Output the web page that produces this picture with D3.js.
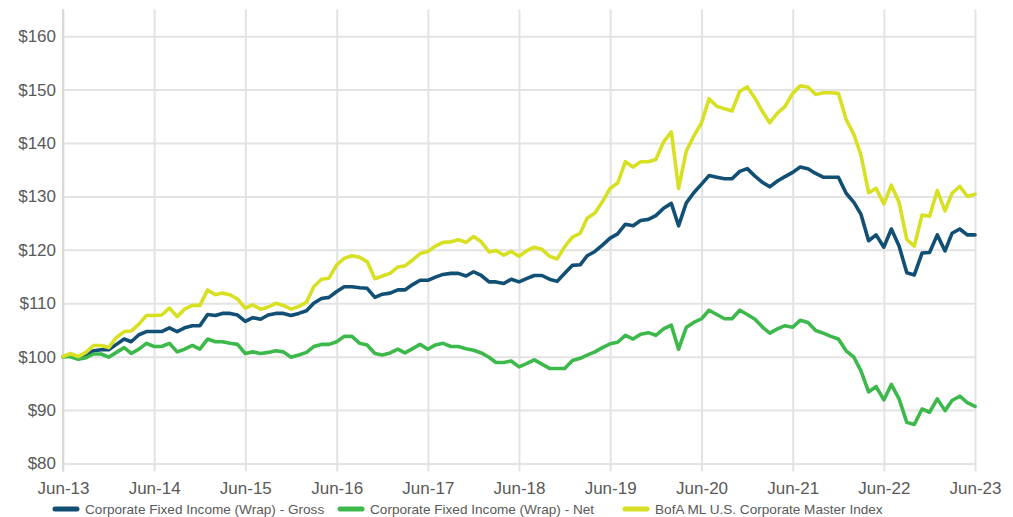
<!DOCTYPE html>
<html>
<head>
<meta charset="utf-8">
<script src="https://cdn.jsdelivr.net/npm/d3@7"></script>
<style>
  html, body { margin: 0; padding: 0; background: #ffffff; }
  svg { display: block; }
  text { font-family: "Liberation Sans", Arial, sans-serif; }
</style>
</head>
<body>
<svg id="chart" width="1013" height="517"></svg>
<script>
// ---- Data (monthly, Jun-13 .. Jun-23) ----
const startMonth = new Date(2013, 5, 1);
const seriesNames = [
  "Corporate Fixed Income (Wrap) - Gross",
  "Corporate Fixed Income (Wrap) - Net",
  "BofA ML U.S. Corporate Master Index"
];
const grossValues = [
  100.0, 100.2, 99.7, 100.3, 101.1, 101.3, 101.3, 102.3, 103.3, 102.8, 104.1, 104.7, 104.7, 104.7, 105.4, 104.7, 105.4, 105.8, 105.8, 107.9, 107.7,
  108.1, 108.1, 107.8, 106.6, 107.3, 107.0, 107.8, 108.1, 108.1, 107.7, 108.1, 108.6, 110.0, 110.9, 111.1, 112.2, 113.1, 113.1, 112.9, 112.8, 111.1,
  111.7, 111.9, 112.5, 112.5, 113.5, 114.3, 114.3, 114.9, 115.4, 115.6, 115.6, 115.1, 115.9, 115.2, 114.0, 114.0, 113.7, 114.5, 114.0,
  114.6, 115.2, 115.2, 114.5, 114.1, 115.6, 117.1, 117.2, 118.9, 119.7, 120.9, 122.2, 123.0, 124.8, 124.5, 125.5, 125.7, 126.4, 127.8, 128.7,
  124.5, 128.8, 130.7, 132.3, 133.9, 133.6, 133.3, 133.3, 134.7, 135.2, 133.8, 132.6, 131.8, 132.9, 133.7, 134.5, 135.5, 135.2, 134.3, 133.6,
  133.6, 133.6, 130.6, 128.9, 126.7, 121.7, 122.8, 120.5, 123.9, 120.7, 115.7, 115.3, 119.4, 119.5, 122.8, 119.8, 123.1, 123.9, 122.8, 122.8
];
const netValues = [
  100.0, 100.0, 99.5, 99.8, 100.5, 100.5, 99.9, 100.8, 101.7, 100.6, 101.4, 102.5, 101.9, 101.9, 102.5, 100.9, 101.4, 102.1, 101.4, 103.3, 102.8,
  102.8, 102.5, 102.3, 100.6, 100.9, 100.6, 100.8, 101.1, 100.9, 99.9, 100.3, 100.8, 101.9, 102.3, 102.3, 102.8, 103.8, 103.8, 102.5, 102.2, 100.6,
  100.3, 100.7, 101.4, 100.7, 101.5, 102.3, 101.4, 102.2, 102.5, 101.9, 101.9, 101.5, 101.2, 100.7, 99.9, 98.9, 98.9, 99.2, 98.1,
  98.7, 99.4, 98.6, 97.8, 97.8, 97.8, 99.3, 99.7, 100.3, 100.9, 101.7, 102.4, 102.7, 104.0, 103.3, 104.2, 104.5, 104.0, 105.2, 105.9,
  101.4, 105.5, 106.4, 107.1, 108.7, 107.9, 107.1, 107.1, 108.7, 107.9, 107.0, 105.5, 104.4, 105.2, 105.8, 105.5, 106.8, 106.4, 104.9, 104.4,
  103.8, 103.3, 101.1, 99.9, 97.4, 93.4, 94.4, 91.9, 94.8, 92.1, 87.7, 87.3, 90.2, 89.6, 92.1, 89.9, 91.8, 92.6, 91.4, 90.7
];
const indexValues = [
  100.0, 100.6, 100.0, 100.8, 102.1, 102.1, 101.7, 103.6, 104.7, 104.8, 106.1, 107.7, 107.7, 107.8, 109.1, 107.5, 108.9, 109.6, 109.6, 112.5, 111.6,
  111.9, 111.6, 110.8, 109.1, 109.7, 108.9, 109.3, 110.0, 109.6, 108.9, 109.4, 110.2, 113.1, 114.5, 114.7, 117.2, 118.4, 118.9, 118.6, 117.8, 114.6,
  115.1, 115.6, 116.8, 117.0, 118.1, 119.3, 119.7, 120.7, 121.4, 121.5, 121.9, 121.4, 122.5, 121.5, 119.6, 119.9, 119.0, 119.7, 118.8,
  119.8, 120.5, 120.1, 118.8, 118.3, 120.6, 122.4, 123.1, 125.9, 126.9, 129.0, 131.5, 132.5, 136.5, 135.5, 136.5, 136.5, 136.9, 140.2, 142.1,
  131.5, 138.5, 141.3, 143.8, 148.3, 146.9, 146.4, 146.0, 149.7, 150.5, 148.4, 145.8, 143.8, 145.6, 146.8, 149.3, 150.7, 150.5, 149.1, 149.4,
  149.4, 149.3, 144.4, 141.6, 137.8, 130.7, 131.5, 128.6, 132.1, 128.9, 121.9, 120.7, 126.5, 126.3, 131.1, 127.3, 130.6, 131.9, 130.0, 130.4
];
const xTickLabels = ["Jun-13","Jun-14","Jun-15","Jun-16","Jun-17","Jun-18","Jun-19","Jun-20","Jun-21","Jun-22","Jun-23"];
const yTickValues = [80, 90, 100, 110, 120, 130, 140, 150, 160];
const seriesColors = ["#114f74", "#3db94b", "#d7e022"];

// ---- Layout ----
const svg = d3.select("#chart");
const pLeft = 63, pRight = 975, pTop = 9.5, pBottom = 463.5;

const dates = grossValues.map((_, i) => d3.timeMonth.offset(startMonth, i));
const x = d3.scaleTime().domain([dates[0], dates[dates.length - 1]]).range([pLeft, pRight]);
const y = d3.scaleLinear().domain([80, 165]).range([pBottom, pTop]);

const gridColor = "#e3e3e3";
const textColor = "#595959";

// horizontal gridlines + y labels
const yAxis = d3.axisLeft(y).tickValues(yTickValues).tickSize(-(pRight - pLeft)).tickPadding(6)
  .tickFormat(d => "$" + d);
const gy = svg.append("g").attr("transform", `translate(${pLeft},0)`).call(yAxis);
gy.select(".domain").remove();
gy.selectAll(".tick line").attr("stroke", gridColor).attr("stroke-width", 2);
gy.selectAll(".tick text").attr("fill", textColor).attr("font-size", 17).attr("x", -7);

// vertical gridlines + x labels
const xTickDates = xTickLabels.map((_, k) => d3.timeMonth.offset(startMonth, 12 * k));
const xAxis = d3.axisBottom(x).tickValues(xTickDates).tickSize(-(pBottom + 8 - pTop)).tickPadding(0)
  .tickFormat((d, k) => xTickLabels[k]);
const gx = svg.append("g").attr("transform", `translate(0,${pBottom + 8})`).call(xAxis);
gx.select(".domain").remove();
gx.selectAll(".tick line").attr("stroke", gridColor).attr("stroke-width", 2);
gx.selectAll(".tick text").attr("fill", textColor).attr("font-size", 17).attr("y", 10).attr("dy", "0.71em");

// left axis line
svg.append("line").attr("x1", pLeft).attr("x2", pLeft).attr("y1", pTop).attr("y2", pBottom + 8)
  .attr("stroke", "#d9d9d9").attr("stroke-width", 2);

// lines
const allSeries = [grossValues, netValues, indexValues];
const line = d3.line().x((d, i) => x(dates[i])).y(d => y(d)).curve(d3.curveLinear);
allSeries.forEach((vals, s) => {
  svg.append("path").datum(vals).attr("d", line)
    .attr("fill", "none").attr("stroke", seriesColors[s]).attr("stroke-width", 3.6)
    .attr("stroke-linejoin", "round").attr("stroke-linecap", "round");
});

// legend
const legendX = [55, 340, 625];
const legend = svg.append("g");
seriesNames.forEach((name, s) => {
  const g = legend.append("g").attr("transform", `translate(${legendX[s]},509)`);
  g.append("line").attr("x1", 0).attr("x2", 22).attr("y1", 0).attr("y2", 0)
    .attr("stroke", seriesColors[s]).attr("stroke-width", 5).attr("stroke-linecap", "round");
  g.append("text").attr("x", 30).attr("y", 0).attr("dy", "0.35em")
    .attr("font-size", 13.6).attr("fill", textColor).text(name);
});
</script>
</body>
</html>
